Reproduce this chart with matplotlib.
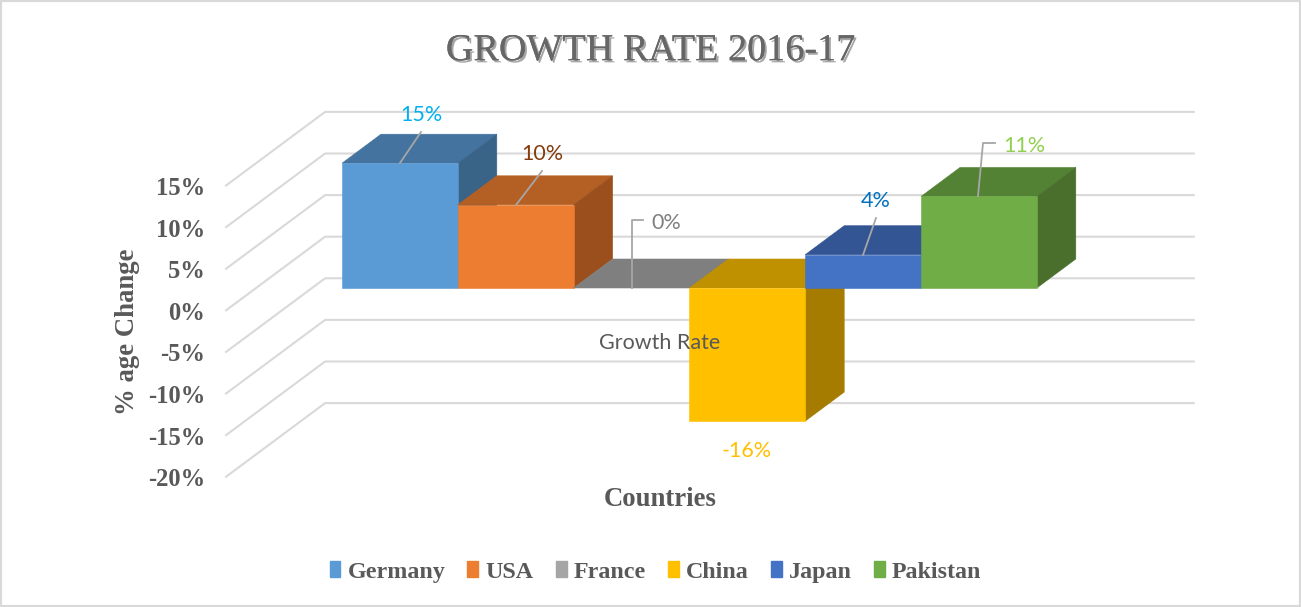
#!/usr/bin/env python3
"""Growth rate 2016-17, drawn as a pseudo 3D column chart"""

import matplotlib
matplotlib.use('Agg')
import matplotlib.pyplot as plt
import matplotlib.patheffects as pe
from matplotlib.patches import Patch, Rectangle
from matplotlib.transforms import Affine2D

countries = ['Germany', 'USA', 'France', 'China', 'Japan', 'Pakistan']
growth = [15, 10, 0, -16, 4, 11]
tick_values = [15, 10, 5, 0, -5, -10, -15, -20]

front_colors = ['#5B9BD5', '#ED7D31', '#A5A5A5', '#FFC000', '#4472C4', '#70AD47']
top_colors = ['#44739F', '#B46024', '#7F7F7F', '#BF9000', '#335593', '#548235']
side_colors = ['#3A6388', '#9A4F1C', '#6E6E6E', '#A67C00', '#2C4A80', '#4A6F2D']
label_colors = ['#00B0F0', '#843C0C', '#7F7F7F', '#FFC000', '#0070C0', '#92D050']

W, H = 1301, 607
BAR_PX = 115.8      # width of one column
PCT_PX = 8.32       # height of one percent
DEPTH_DX = 39 / BAR_PX
DEPTH_DY = 29 / PCT_PX
LEFT_PX, ZERO_PX = 342, 288

TEXT_GREY = '#595959'
SERIF = 'Liberation Serif'
SANS = 'Lato'


def project(x, y, depth=0.0):
    """Category/percent/depth to 2D data coordinates"""
    return x + depth * DEPTH_DX, y + depth * DEPTH_DY


def face(ax, corners, color, zorder):
    pts = [project(*c) for c in corners]
    ax.fill([p[0] for p in pts], [p[1] for p in pts], color=color, lw=0.4, zorder=zorder)


fig = plt.figure(figsize=(W / 100, H / 100), dpi=100)
ax = fig.add_axes([0, 0, 1, 1])
ax.set_xlim(-LEFT_PX / BAR_PX, (W - LEFT_PX) / BAR_PX)
ax.set_ylim((ZERO_PX - H) / PCT_PX, ZERO_PX / PCT_PX)
ax.axis('off')

# pixel coordinates for the text and the leader lines, y going down
px = Affine2D().scale(1, -1).translate(0, H)

# chart border
fig.add_artist(Rectangle((0, 0), W, H, transform=px, fill=False, ec='#D9D9D9', lw=3))

# gridlines: floor part and back wall part
front_depth, back_depth = -30 / 39, 69 / 39
x_left, x_right = -0.742, 6.76
for v in tick_values:
    pts = [project(x_left, v, front_depth), project(x_left, v, back_depth),
           project(x_right, v, back_depth)]
    ax.plot([p[0] for p in pts], [p[1] for p in pts], color='#D9D9D9', lw=1.5, zorder=1)
    tx, ty = project(x_left, v, front_depth)
    ax.annotate(f'{v}%', (tx, ty), xytext=(-21, -3), textcoords='offset pixels',
                ha='right', va='center', family=SERIF, weight='bold', fontsize=17.7,
                color=TEXT_GREY)

# columns, left to right so each one covers the side of the previous
for i, v in enumerate(growth):
    z = 3 + i
    top = max(v, 0)
    face(ax, [(i, top, 0), (i, top, 1), (i + 1, top, 1), (i + 1, top, 0)], top_colors[i], z)
    face(ax, [(i + 1, 0, 0), (i + 1, 0, 1), (i + 1, v, 1), (i + 1, v, 0)], side_colors[i], z)
    if v != 0:
        face(ax, [(i, 0, 0), (i + 1, 0, 0), (i + 1, v, 0), (i, v, 0)], front_colors[i], z + 0.5)

# data labels and their leaders
leaders = [[(400, 163), (421, 132)], [(516, 205), (542, 171)],
           [(632, 288), (632, 220), (643, 220)], None,
           [(863, 255), (876, 218)], [(978, 196), (983, 143), (995, 143)]]
label_pos = [(421, 115), (542, 154), (666, 223), (747, 451), (876, 201), (1024, 146)]
for value, leader, pos, color in zip(growth, leaders, label_pos, label_colors):
    if leader:
        ax.plot([p[0] for p in leader], [p[1] for p in leader], transform=px,
                color='#A6A6A6', lw=1.3, zorder=20)
    ax.text(pos[0], pos[1], f'{value}%', transform=px, ha='center', va='center',
            family=SANS, fontsize=15.5, color=color, zorder=21)

# series name sits on top of the China column
ax.text(660, 343, 'Growth Rate', transform=px, ha='center', va='center',
        family=SANS, fontsize=15.5, color=TEXT_GREY, zorder=21)

# title, engraved look
ax.text(651, 51, 'GROWTH RATE 2016-17', transform=px, ha='center', va='center',
        family=SERIF, fontsize=27.5, color='#666666', zorder=21,
        path_effects=[pe.withSimplePatchShadow(offset=(1.5, -1.5), shadow_rgbFace='#A6A6A6', alpha=1),
                      pe.Normal()])

# axis titles
ax.text(128, 332, '% age Change', transform=px, rotation=90, ha='center', va='center',
        family=SERIF, weight='bold', fontsize=19.3, color=TEXT_GREY)
ax.text(660, 500, 'Countries', transform=px, ha='center', va='center',
        family=SERIF, weight='bold', fontsize=19.3, color=TEXT_GREY)

handles = [Patch(color=c, label=n) for c, n in zip(front_colors, countries)]
ax.legend(handles=handles, ncol=6, loc='center', bbox_to_anchor=(655.5, H - 572),
          bbox_transform=Affine2D(), frameon=False, handlelength=0.45, handleheight=0.6,
          handletextpad=0.3, columnspacing=0.92, borderpad=0,
          prop={'family': SERIF, 'weight': 'bold', 'size': 17.3}, labelcolor=TEXT_GREY)

fig.savefig('out.png', dpi=100)
print("Saved out.png")
